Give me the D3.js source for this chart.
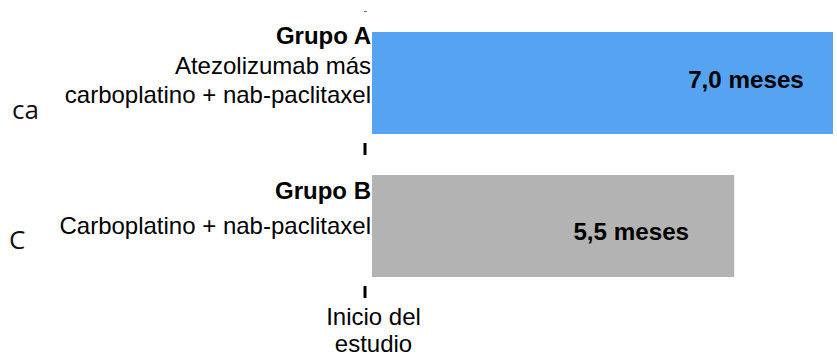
<!DOCTYPE html>
<html>
<head>
<meta charset="utf-8">
<script src="https://cdn.jsdelivr.net/npm/d3@7"></script>
<style>
  html, body { margin: 0; padding: 0; background: #fff; }
  svg { display: block; }
</style>
</head>
<body>
<script>
// Progression-free survival by treatment arm (months)
const groups = ["Grupo A", "Grupo B"];
const treatments = [
  ["Atezolizumab más", "carboplatino + nab-paclitaxel"],
  ["Carboplatino + nab-paclitaxel"]
];
const months = [7.0, 5.5];
const valueLabels = ["7,0 meses", "5,5 meses"];
const colors = ["#55a3f1", "#b3b3b3"];
const startLabel = ["Inicio del", "estudio"];
const sideFragments = ["ca", "C"];

const W = 837, H = 359;
const svg = d3.select("body").append("svg")
  .attr("width", W).attr("height", H);

const x = d3.scaleLinear().domain([0, 7]).range([372, 833]);
const y = d3.scaleBand().domain(groups).range([32, 277]).paddingInner(41 / 143);

// bars
svg.append("g").selectAll("rect")
  .data(groups)
  .join("rect")
  .attr("x", x(0))
  .attr("y", d => y(d))
  .attr("width", (d, i) => x(months[i]) - x(0))
  .attr("height", y.bandwidth())
  .attr("fill", (d, i) => colors[i]);

// value labels inside bars
const labelShift = [-87, -103];
const labelDrop = [5, 14];
svg.append("g").selectAll("text")
  .data(groups)
  .join("text")
  .attr("x", (d, i) => x(months[i]) + labelShift[i])
  .attr("y", (d, i) => y(d) + y.bandwidth() / 2 + labelDrop[i])
  .attr("text-anchor", "middle")
  .attr("font-family", "Liberation Sans, Arial, sans-serif")
  .attr("font-weight", "bold")
  .attr("font-size", 24.2)
  .attr("fill", "#000")
  .text((d, i) => valueLabels[i]);

// group names and treatment descriptions, right-aligned against the axis
const catFont = "Liberation Sans, Arial, sans-serif";
const firstLine = [12, 24];
const lineH = [29.5, 35];
groups.forEach((g, i) => {
  const top = y(g) + firstLine[i];
  const t = svg.append("text")
    .attr("text-anchor", "end")
    .attr("font-family", catFont)
    .attr("font-size", 24)
    .attr("fill", "#000");
  t.append("tspan")
    .attr("x", x(0) - 1)
    .attr("y", top)
    .attr("font-weight", "bold")
    .text(g);
  treatments[i].forEach((line, k) => {
    t.append("tspan")
      .attr("x", x(0) - 1)
      .attr("y", top + lineH[i] * (k + 1))
      .text(line);
  });
});

// ticks on the left axis between rows
const tickTops = [y(groups[0]) + y.bandwidth() + 9, y(groups[1]) + y.bandwidth() + 9];
svg.append("g").selectAll("rect")
  .data(tickTops)
  .join("rect")
  .attr("x", x(0) - 8.5)
  .attr("y", d => d)
  .attr("width", 3)
  .attr("height", 12)
  .attr("fill", "#000");
svg.append("rect")
  .attr("x", x(0) - 8)
  .attr("y", 11)
  .attr("width", 3)
  .attr("height", 1)
  .attr("fill", "#777");

// start-of-study label under the axis
const st = svg.append("text")
  .attr("text-anchor", "middle")
  .attr("font-family", catFont)
  .attr("font-size", 24)
  .attr("fill", "#000");
startLabel.forEach((line, k) => {
  st.append("tspan")
    .attr("x", x(0) + 1.5)
    .attr("y", 325 + k * 27)
    .text(line);
});

// fragments at the far left edge
svg.append("g").selectAll("text")
  .data(sideFragments)
  .join("text")
  .attr("x", (d, i) => [12, 9][i])
  .attr("y", (d, i) => y(groups[i]) + [87, 74][i])
  .attr("font-family", "Open Sans, sans-serif")
  .attr("font-size", 26)
  .attr("fill", "#111")
  .text(d => d);
</script>
</body>
</html>
